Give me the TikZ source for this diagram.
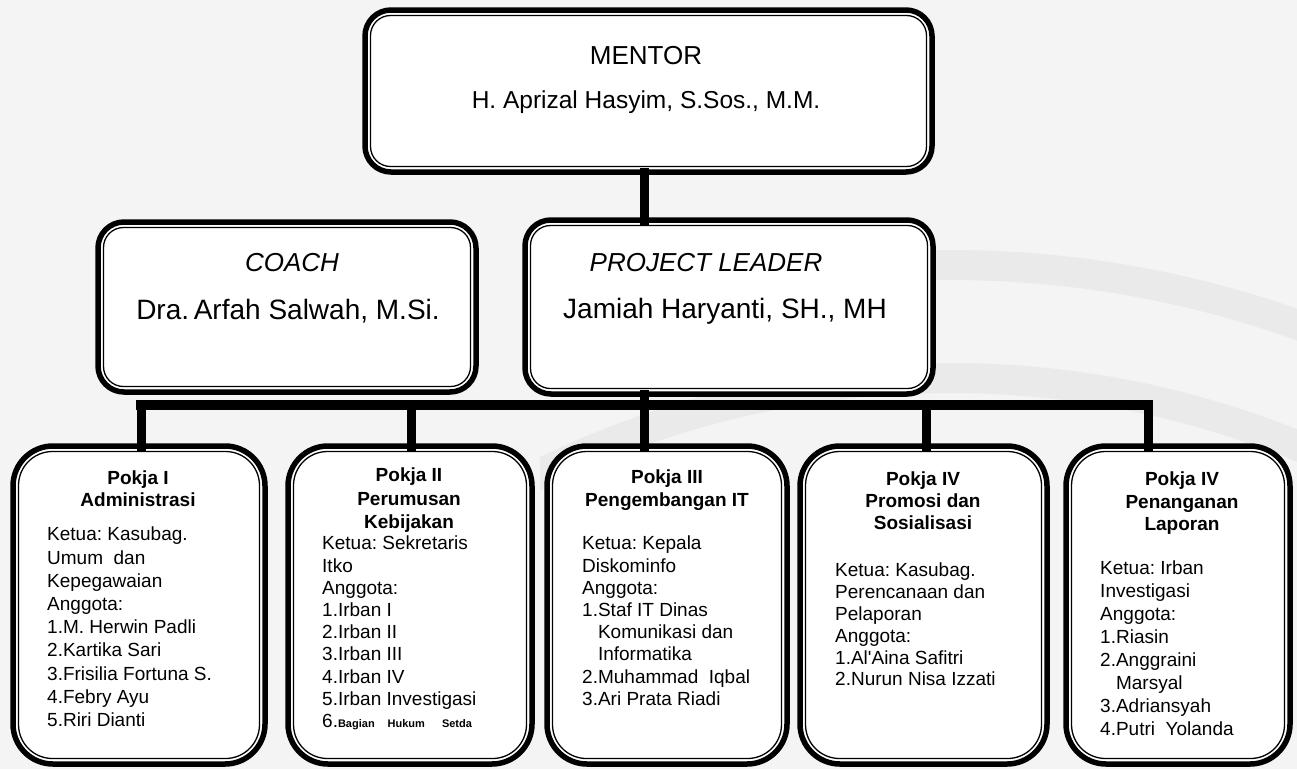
\documentclass[tikz,border=0pt]{standalone}
\usepackage{fontspec}
\setmainfont{Liberation Sans}
\usetikzlibrary{calc}
\definecolor{bgcol}{HTML}{F4F4F4}
\definecolor{bandcol}{HTML}{EAEAEA}
\tikzset{
  boxA/.style={draw=black, line width=5.5, fill=white, outer sep=0, inner sep=0,
    rounded corners=26,
    path picture={\draw[black, line width=1.3, rounded corners=20]
       ([shift={(5.5,5.5)}]path picture bounding box.north west) rectangle
       ([shift={(-5.5,-5.5)}]path picture bounding box.south east);}},
  boxB/.style={draw=black, line width=5.5, fill=white, outer sep=0, inner sep=0,
    rounded corners=40,
    path picture={\draw[black, line width=1.3, rounded corners=34]
       ([shift={(5.5,5.5)}]path picture bounding box.north west) rectangle
       ([shift={(-5.5,-5.5)}]path picture bounding box.south east);}},
  conn/.style={line width=9, line cap=rect},
  bus/.style={line width=10, line cap=rect},
  headtxt/.style={inner sep=0, font=\fontsize{26}{30}\selectfont},
  bigtxt/.style={inner sep=0, font=\fontsize{24.5}{28}\selectfont},
  ittxt/.style={inner sep=0, font=\itshape\fontsize{26}{30}\selectfont},
  nametxt/.style={inner sep=0, font=\fontsize{28}{32}\selectfont},
  titletxt/.style={inner sep=0, anchor=north, align=center, font=\bfseries\fontsize{19}{#1}\selectfont},
  bodytxt/.style={inner sep=0, anchor=north west, align=left, font=\fontsize{19}{#1}\selectfont},
}
\newcommand{\ind}{\hphantom{1.}}
\frenchspacing
\begin{document}
\begin{tikzpicture}[x=1pt,y=-1pt]
\path[use as bounding box, fill=bgcol] (0,0) rectangle (1297,769);
\begin{scope}
  \clip (540,0) rectangle (1297,769);
  \draw[bandcol, line width=30] (950,1300) circle[radius=1035];
  \draw[bandcol, line width=30] (950,1300) circle[radius=922];
\end{scope}

% coordinates for connectors
\coordinate (spine) at (644,405);
\coordinate (j1) at (141,405);
\coordinate (j2) at (411,405);
\coordinate (j4) at (926,405);
\coordinate (j5) at (1148,405);

% boxes
\node[boxA, minimum width=567, minimum height=162] (mentor) at (648.5,91) {};
\node[boxA, minimum width=378, minimum height=170] (coach) at (287,307) {};
\node[boxA, minimum width=408, minimum height=174] (pl) at (729,307) {};
\node[boxB, minimum width=252, minimum height=318] (b1) at (139,605) {};
\node[boxB, minimum width=244, minimum height=318] (b2) at (410,605) {};
\node[boxB, minimum width=240, minimum height=318] (b3) at (667,605) {};
\node[boxB, minimum width=247, minimum height=318] (b4) at (923.5,605) {};
\node[boxB, minimum width=224, minimum height=318] (b5) at (1178,605) {};

% connectors
\draw[conn] (mentor.south -| spine) -- (pl.north -| spine);
\draw[conn] (pl.south -| spine) -- (b3.north -| spine);
\draw[bus] (j1) -- (j5);
\draw[conn] (j1) -- (b1.north -| j1);
\draw[conn] (j2) -- (b2.north -| j2);
\draw[conn] (j4) -- (b4.north -| j4);
\draw[conn] (j5) -- (b5.north -| j5);

% texts top
\node[headtxt] (mentorT) at (646,56) {MENTOR};
\node[bigtxt] (mentorN) at (646,102) {H. Aprizal Hasyim, S.Sos., M.M.};
\node[ittxt] (coachT) at (292,263) {COACH};
\node[nametxt] (coachN) at (288,311) {Dra.\,Arfah Salwah, M.Si.};
\node[ittxt] (plT) at (706,263) {PROJECT LEADER};
\node[nametxt] (plN) at (725,311) {Jamiah Haryanti, SH., MH};

% bottom titles
\node[titletxt=22] (t1) at (138,471) {Pokja I\\Administrasi};
\node[titletxt=23.5] (t2) at (409,468) {Pokja II\\Perumusan\\Kebijakan};
\node[titletxt=23] (t3) at (667,470) {Pokja III\\Pengembangan IT};
\node[titletxt=22] (t4) at (923,472) {Pokja IV\\Promosi dan\\Sosialisasi};
\node[titletxt=22.5] (t5) at (1182,472) {Pokja IV\\Penanganan\\Laporan};

% bottom bodies
\node[bodytxt=23.2] (c1) at (47,527) {Ketua: Kasubag.\\Umum\ \ dan\\Kepegawaian\\Anggota:\\1.M. Herwin Padli\\2.Kartika Sari\\3.Frisilia Fortuna S.\\4.Febry Ayu\\5.Riri Dianti};
\node[bodytxt=22.2] (c2) at (322,536) {Ketua: Sekretaris\\Itko\\Anggota:\\1.Irban I\\2.Irban II\\3.Irban III\\4.Irban IV\\5.Irban Investigasi\\6.{\bfseries\fontsize{11}{12}\selectfont Bagian\hspace{13pt}Hukum\hspace{17pt}Setda}};
\node[bodytxt=22.2] (c3) at (582,536) {Ketua: Kepala\\Diskominfo\\Anggota:\\1.Staf IT Dinas\\\ind Komunikasi dan\\\ind Informatika\\2.Muhammad\ \ Iqbal\\3.Ari Prata Riadi};
\node[bodytxt=21.8] (c4) at (835,563) {Ketua: Kasubag.\\Perencanaan dan\\Pelaporan\\Anggota:\\1.Al\textquotesingle Aina Safitri\\2.Nurun Nisa Izzati};
\node[bodytxt=23] (c5) at (1100,561) {Ketua: Irban\\Investigasi\\Anggota:\\1.Riasin\\2.Anggraini\\\ind Marsyal\\3.Adriansyah\\4.Putri\ \ Yolanda};
\end{tikzpicture}
\end{document}
